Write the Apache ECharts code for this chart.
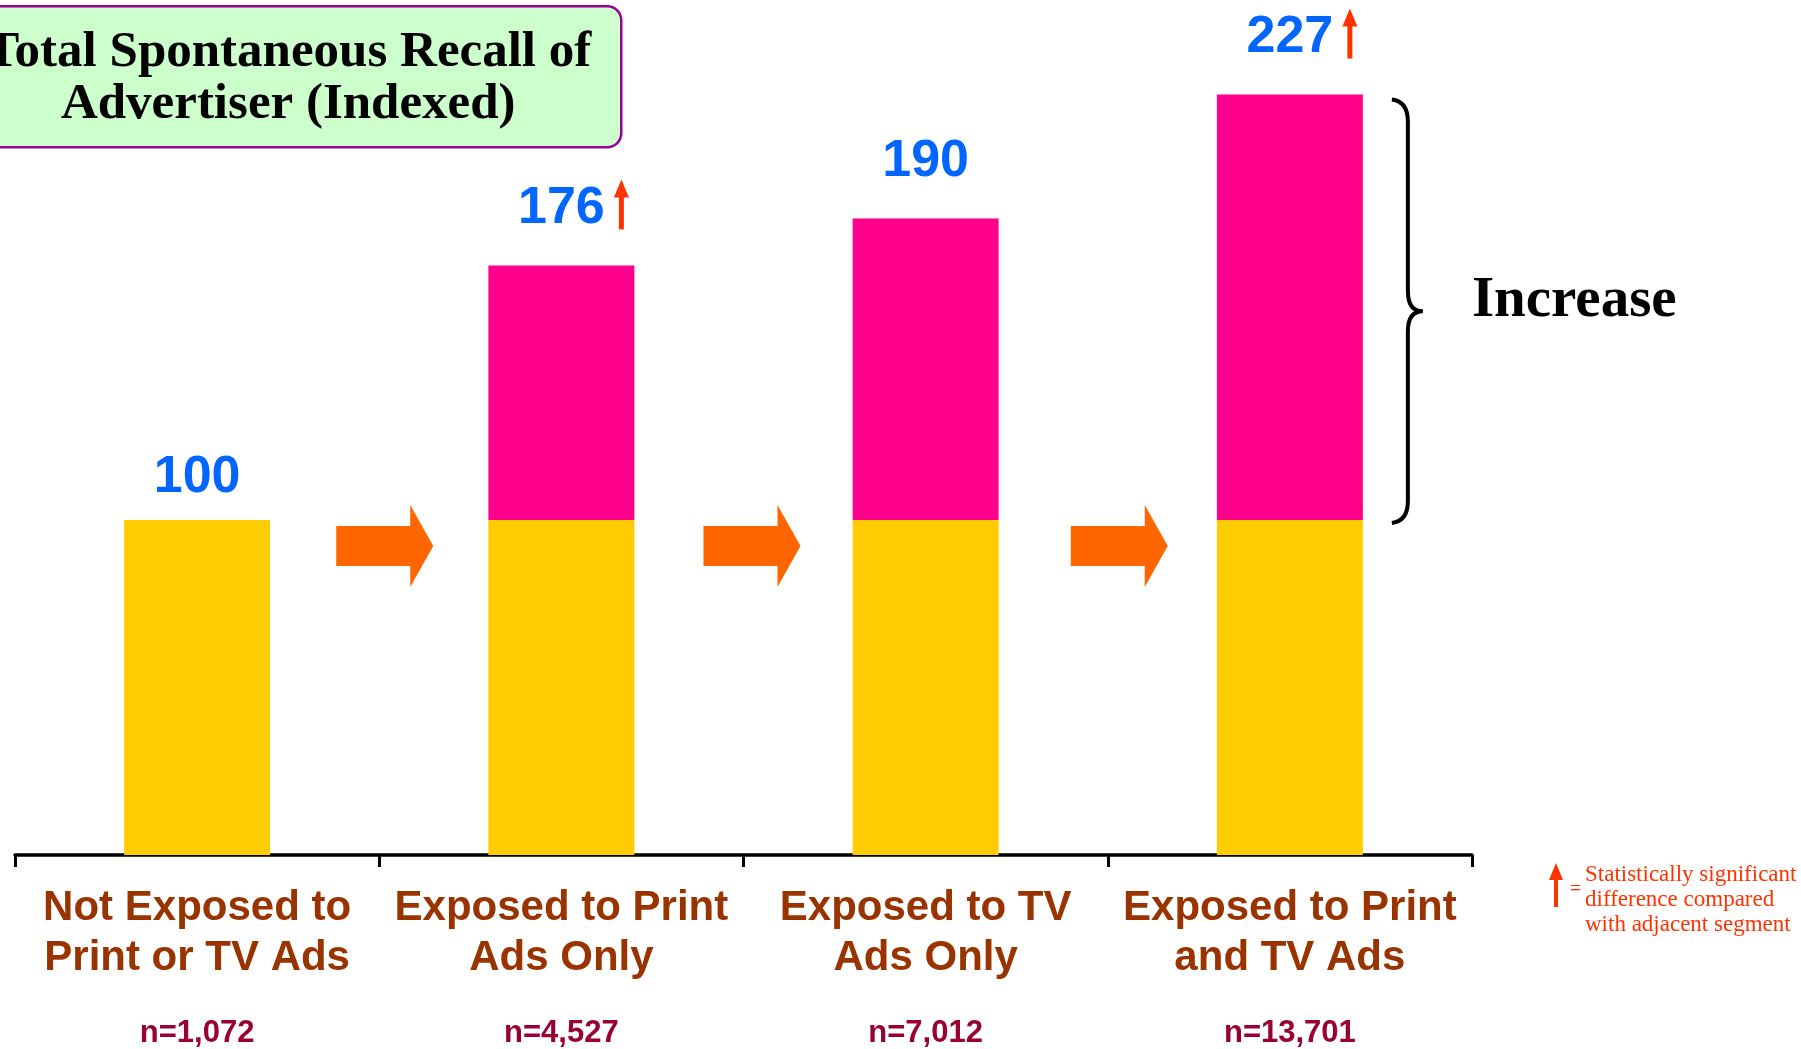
<!DOCTYPE html>
<html lang="en">

<head>
    <meta charset="UTF-8">
    <title>Total Spontaneous Recall of Advertiser (Indexed)</title>
    <style>
        html, body { margin: 0; padding: 0; background: #fff; }
        #chart { width: 1801px; height: 1049px; }
    </style>
</head>

<body>
    <div id="chart"></div>
</body>
<script src="https://cdn.jsdelivr.net/npm/echarts@6/dist/echarts.min.js"></script>
<script type="text/javascript">
    // data
    var categories = ['Not Exposed to\nPrint or TV Ads', 'Exposed to Print\nAds Only', 'Exposed to TV\nAds Only', 'Exposed to Print\nand TV Ads'];
    var sampleSizes = ['n=1,072', 'n=4,527', 'n=7,012', 'n=13,701'];
    var baseValues = [100, 100, 100, 100];
    var increaseValues = [0, 76, 90, 127];
    var significant = [false, true, false, true];

    var totals = baseValues.map(function (v, i) { return v + increaseValues[i]; });

    var SANS = '"Liberation Sans", Arial, sans-serif';
    var SERIF = '"Liberation Serif", "Times New Roman", serif';

    var myChart = echarts.init(document.getElementById('chart'));

    // arrows between neighbouring bars
    var stepData = [];
    for (var i = 0; i < categories.length - 1; i++) {
        stepData.push([i, baseValues[i]]);
    }
    // significance arrows next to the totals
    var sigData = [];
    significant.forEach(function (s, i) {
        if (s) sigData.push([i, totals[i]]);
    });
    // bracket over the increase of the last bar
    var last = categories.length - 1;
    var bracketData = [[last, baseValues[last], totals[last]]];

    var option = {
        animation: false,
        grid: { left: 15, right: 329, top: 17.5, bottom: 194, containLabel: false, outerBoundsMode: 'none' },
        xAxis: {
            type: 'category',
            data: categories,
            axisLine: { lineStyle: { color: '#000', width: 3.5 } },
            axisTick: { show: true, length: 12, lineStyle: { color: '#000', width: 3 } },
            axisLabel: {
                interval: 0,
                margin: 28,
                formatter: function (value, idx) {
                    var lines = value.split('\n').map(function (l) { return '{a|' + l + '}'; });
                    return lines.join('\n') + '\n{n|' + sampleSizes[idx] + '}';
                },
                rich: {
                    a: { color: '#993300', fontFamily: SANS, fontWeight: 'bold', fontSize: 42, lineHeight: 50 },
                    n: { color: '#990033', fontFamily: SANS, fontWeight: 'bold', fontSize: 31, lineHeight: 100 }
                }
            }
        },
        yAxis: {
            type: 'value',
            min: 0,
            max: 250,
            show: false,
            splitLine: { show: false }
        },
        series: [{
            name: 'Base',
            type: 'bar',
            stack: 'recall',
            barWidth: 146,
            itemStyle: { color: '#FFCC00' },
            data: baseValues
        }, {
            name: 'Increase',
            type: 'bar',
            stack: 'recall',
            barWidth: 146,
            itemStyle: { color: '#FF008C' },
            label: {
                show: true,
                position: 'top',
                distance: 31,
                color: '#0066FF',
                fontFamily: SANS,
                fontWeight: 'bold',
                fontSize: 52,
                formatter: function (p) { return totals[p.dataIndex]; }
            },
            data: increaseValues.map(function (v, i) {
                return i === 0 ? { value: v, label: { distance: 16 } } : v;
            })
        }, {
            name: 'steps',
            type: 'custom',
            z: 5,
            renderItem: function (params, api) {
                var a = api.coord([api.value(0), api.value(1)]);
                var b = api.coord([api.value(0) + 1, api.value(1)]);
                var cx = (a[0] + b[0]) / 2 + 5 + api.value(0) * 3;
                var cy = a[1] + 26;
                var L = cx - 48, J = cx + 26, T = cx + 49;
                return {
                    type: 'polygon',
                    shape: { points: [[L, cy - 20], [J, cy - 20], [J, cy - 41], [T, cy], [J, cy + 41], [J, cy + 20], [L, cy + 20]] },
                    style: { fill: '#FF6600' }
                };
            },
            data: stepData
        }, {
            name: 'significance',
            type: 'custom',
            z: 5,
            renderItem: function (params, api) {
                var p = api.coord([api.value(0), api.value(1)]);
                var x = p[0] + 60;
                var yTop = p[1] - 86, yBot = p[1] - 36;
                return {
                    type: 'group',
                    children: [{
                        type: 'rect',
                        shape: { x: x - 2.5, y: yTop + 16, width: 5, height: yBot - yTop - 16 },
                        style: { fill: '#FF3300' }
                    }, {
                        type: 'polygon',
                        shape: { points: [[x - 7.5, yTop + 18], [x, yTop], [x + 7.5, yTop + 18]] },
                        style: { fill: '#FF3300' }
                    }]
                };
            },
            data: sigData
        }, {
            name: 'bracket',
            type: 'custom',
            z: 5,
            renderItem: function (params, api) {
                var lo = api.coord([api.value(0), api.value(1)]);
                var hi = api.coord([api.value(0), api.value(2)]);
                var x0 = lo[0] + 102, xs = lo[0] + 118, xt = lo[0] + 133;
                var y0 = hi[1] + 5, y1 = lo[1] + 3, ym = (y0 + y1) / 2;
                var d = 'M' + x0 + ' ' + y0 +
                    ' Q' + xs + ' ' + (y0 + 2) + ' ' + xs + ' ' + (y0 + 22) +
                    ' L' + xs + ' ' + (ym - 20) +
                    ' Q' + xs + ' ' + ym + ' ' + xt + ' ' + ym +
                    ' Q' + xs + ' ' + ym + ' ' + xs + ' ' + (ym + 20) +
                    ' L' + xs + ' ' + (y1 - 22) +
                    ' Q' + xs + ' ' + (y1 - 2) + ' ' + x0 + ' ' + y1;
                return {
                    type: 'group',
                    children: [{
                        type: 'path',
                        shape: { pathData: d },
                        style: { fill: null, stroke: '#000', lineWidth: 4 }
                    }, {
                        type: 'text',
                        style: {
                            x: xt + 49, y: ym - 10,
                            text: 'Increase',
                            fill: '#000',
                            font: 'bold 57px ' + SERIF,
                            verticalAlign: 'middle'
                        }
                    }]
                };
            },
            data: bracketData
        }],
        graphic: [{
            // title box, runs off the left edge like the original slide
            type: 'group',
            left: -30,
            top: 5,
            children: [{
                type: 'rect',
                shape: { x: 0, y: 0, width: 650, height: 141, r: 14 },
                style: { fill: '#CCFFCC', stroke: '#990099', lineWidth: 2.5 }
            }, {
                type: 'text',
                style: {
                    x: 317, y: 73,
                    text: 'Total Spontaneous Recall of\nAdvertiser (Indexed)',
                    fill: '#000',
                    font: 'bold 51px ' + SERIF,
                    lineHeight: 52,
                    align: 'center',
                    verticalAlign: 'middle'
                }
            }]
        }, {
            // significance legend
            type: 'group',
            left: 1549,
            top: 862,
            children: [{
                type: 'rect',
                shape: { x: 5, y: 15, width: 4, height: 29 },
                style: { fill: '#FF3300' }
            }, {
                type: 'polygon',
                shape: { points: [[0, 17], [7, 0], [14, 17]] },
                style: { fill: '#FF3300' }
            }, {
                type: 'text',
                style: { x: 21, y: 17, text: '=', fill: '#FF3300', font: '20px ' + SERIF }
            }, {
                type: 'text',
                style: {
                    x: 36, y: -1,
                    text: 'Statistically significant\ndifference compared\nwith adjacent segment',
                    fill: '#FF3300',
                    font: '23px ' + SERIF,
                    lineHeight: 25
                }
            }]
        }]
    };

    myChart.setOption(option);
</script>

</html>
